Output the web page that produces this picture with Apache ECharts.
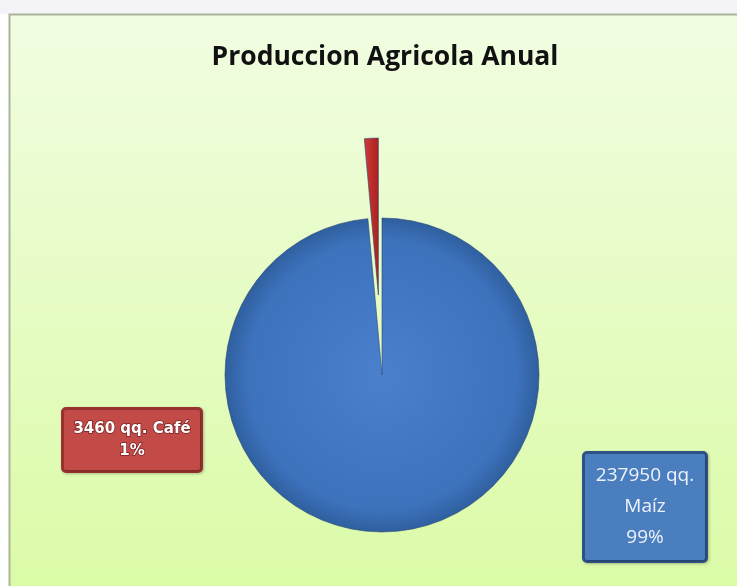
<!DOCTYPE html>
<html>
<head>
<meta charset="utf-8">
<script src="https://cdn.jsdelivr.net/npm/echarts@6/dist/echarts.min.js"></script>
<style>
html,body{margin:0;padding:0;background:#fff;}
#c{width:737px;height:586px;}
</style>
</head>
<body>
<div id="c"></div>
<script>
var categories = ['Maíz', 'Café'];
var values = [237950, 3460];
var title = 'Produccion Agricola Anual';

var chart = echarts.init(document.getElementById('c'));
var labelCenters = [[645, 507], [132, 440]];

var labelStyles = [
  { backgroundColor: '#4a7ebf', borderColor: '#2e5487', borderWidth: 3, borderRadius: 2,
    width: 114, height: 98, padding: [4, 3, 4, 3], align: 'center', verticalAlign: 'middle',
    color: '#eef3fa', fontFamily: 'Open Sans', fontSize: 19, lineHeight: 31,
    shadowColor: 'rgba(0,0,0,0.25)', shadowBlur: 3, shadowOffsetX: 1, shadowOffsetY: 1 },
  { backgroundColor: '#c24b48', borderColor: '#9a3230', borderWidth: 3, borderRadius: 2,
    width: 132, height: 56, padding: [2, 2, 2, 2], align: 'center', verticalAlign: 'middle',
    color: '#ffffff', fontFamily: 'DejaVu Sans', fontWeight: 'bold', fontSize: 15, lineHeight: 22,
    textBorderColor: '#7a2020', textBorderWidth: 1.5,
    shadowColor: 'rgba(0,0,0,0.25)', shadowBlur: 3, shadowOffsetX: 1, shadowOffsetY: 1 }
];

var pieData = categories.map(function (name, i) {
  return { name: name, value: values[i], selected: i === 1 };
});
var labelData = categories.map(function (name, i) {
  return { name: name, value: values[i], label: labelStyles[i] };
});

chart.setOption({
  backgroundColor: '#ffffff',
  title: {
    text: title,
    left: 380,
    top: 39,
    textAlign: 'center',
    textStyle: { fontFamily: 'Open Sans', fontWeight: 'bold', fontSize: 26.5, color: '#111' }
  },
  graphic: [
    { type: 'rect', z: -10, silent: true,
      shape: { x: 0, y: 0, width: 737, height: 14 },
      style: { fill: '#f4f4f8' } },
    { type: 'rect', z: -9, silent: true,
      shape: { x: 9.5, y: 14.5, width: 740, height: 580 },
      style: {
        fill: { type: 'linear', x: 0, y: 0, x2: 0, y2: 1,
          colorStops: [{ offset: 0, color: '#f1fde2' }, { offset: 1, color: '#dbfba6' }] },
        stroke: '#a9b59a', lineWidth: 2
      } }
  ],
  series: [{
    type: 'pie',
    center: [382, 375],
    radius: [0, 157],
    startAngle: 90,
    clockwise: true,
    selectedMode: 'multiple',
    selectedOffset: 80,
    emphasis: { disabled: true },
    animation: false,
    label: { show: false },
    labelLine: { show: false },
    data: pieData,
    itemStyle: { borderWidth: 1, borderColor: 'rgba(40,70,120,0.6)' },
    color: [
      { type: 'radial', x: 0.5, y: 0.5, r: 0.5,
        colorStops: [{ offset: 0, color: '#4a80cc' }, { offset: 0.85, color: '#3d72bd' }, { offset: 1, color: '#2f5f9e' }] },
      { type: 'linear', x: 0, y: 0, x2: 1, y2: 0,
        colorStops: [{ offset: 0, color: '#d23a36' }, { offset: 1, color: '#a82220' }] }
    ]
  }, {
    type: 'pie',
    center: [382, 375],
    radius: [0, 157],
    startAngle: 90,
    clockwise: true,
    silent: true,
    percentPrecision: 0,
    emphasis: { disabled: true },
    animation: false,
    itemStyle: { color: 'rgba(0,0,0,0)', borderWidth: 0 },
    labelLine: { show: false },
    data: labelData,
    label: {
      show: true,
      position: 'outside',
      formatter: function (p) {
        if (p.dataIndex === 0) return p.value + ' qq.\n' + p.name + '\n' + p.percent + '%';
        return p.value + ' qq. ' + p.name + '\n' + p.percent + '%';
      }
    },
    labelLayout: function (params) {
      var c = labelCenters[params.dataIndex];
      return { x: c[0], y: c[1], align: 'center', verticalAlign: 'middle' };
    }
  }]
});
</script>
</body>
</html>
